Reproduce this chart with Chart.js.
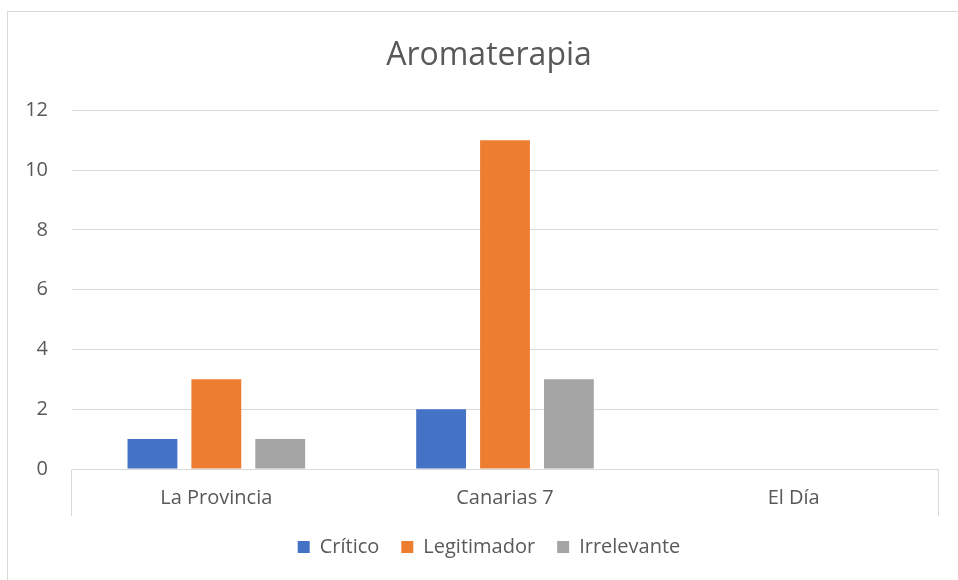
<!DOCTYPE html>
<html>
<head>
<meta charset="utf-8">
<script src="https://cdn.jsdelivr.net/npm/chart.js@4"></script>
<style>
  html, body { margin: 0; padding: 0; background: #fff; overflow: hidden; }
  #wrap { position: relative; width: 958px; height: 580px; overflow: hidden; }
  #frame { position: absolute; left: 7px; top: 11px; width: 1000px; height: 600px; border: 1px solid #d9d9d9; }
  canvas { position: absolute; left: 0; top: 0; }
</style>
</head>
<body>
<div id="wrap">
  <div id="frame"></div>
  <canvas id="chart" width="978" height="580"></canvas>
</div>
<script>
  // Datos
  const categorias = ["La Provincia", "Canarias 7", "El Día"];
  const critico = [1, 2, 0];
  const legitimador = [3, 11, 0];
  const irrelevante = [1, 3, 0];
  const yTicks = [0, 2, 4, 6, 8, 10, 12];

  const gris = "#595959";
  const linea = "#d9d9d9";
  const fuente = "'Open Sans', 'Noto Sans', sans-serif";

  const ctx = document.getElementById("chart");
  new Chart(ctx, {
    type: "bar",
    data: {
      labels: categorias,
      datasets: [
        { label: "Crítico", data: critico, backgroundColor: "#4472C4" },
        { label: "Legitimador", data: legitimador, backgroundColor: "#ED7D31" },
        { label: "Irrelevante", data: irrelevante, backgroundColor: "#A5A5A5" },
      ],
    },
    options: {
      responsive: false,
      animation: false,
      layout: { padding: { left: 0, right: 0, top: 0, bottom: 13 } },
      datasets: {
        bar: { categoryPercentage: 0.664, barPercentage: 0.78 },
      },
      scales: {
        x: {
          grid: {
            offset: true,
            drawOnChartArea: false,
            drawTicks: true,
            tickLength: 47,
            // solo las líneas de los extremos (la última no tiene tick propio)
            color: (c) => (c.type !== "tick" || c.index === 0 ? linea : "rgba(0,0,0,0)"),
          },
          border: { display: true, color: linea, width: 1 },
          ticks: { color: gris, font: { family: fuente, size: 20 }, padding: -30 },
          afterFit: (scale) => { scale.height = 46; },
        },
        y: {
          min: yTicks[0],
          max: yTicks[yTicks.length - 1],
          afterBuildTicks: (scale) => { scale.ticks = yTicks.map((v) => ({ value: v })); },
          grid: { color: linea, drawTicks: false },
          border: { display: false },
          ticks: { color: gris, font: { family: fuente, size: 20 }, padding: 24 },
          afterFit: (scale) => { scale.width = 72; },
        },
        margen: {
          position: "right",
          min: yTicks[0],
          max: yTicks[yTicks.length - 1],
          grid: { display: false },
          border: { display: false },
          ticks: { display: false },
          afterFit: (scale) => { scale.width = 40; },
        },
      },
      plugins: {
        title: {
          display: true,
          text: "Aromaterapia",
          color: gris,
          font: { family: fuente, size: 32, weight: "normal" },
          padding: { top: 37, bottom: 35 },
        },
        legend: {
          position: "bottom",
          labels: {
            color: gris,
            boxWidth: 12,
            boxHeight: 12,
            padding: 22,
            font: { family: fuente, size: 20 },
          },
        },
        tooltip: { enabled: false },
      },
    },
  });
</script>
</body>
</html>
